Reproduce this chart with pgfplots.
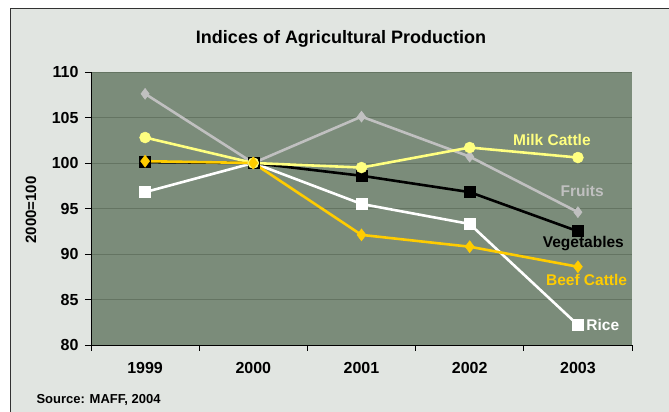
\documentclass[border=0pt]{standalone}
\usepackage{pgfplots}
\pgfplotsset{compat=1.18}
\usepackage{fontspec}
\setmainfont{Liberation Sans}

\definecolor{outerbg}{RGB}{225,229,225}
\definecolor{framec}{RGB}{50,50,50}
\definecolor{plotbg}{RGB}{123,140,122}
\definecolor{gridc}{RGB}{100,116,98}
\definecolor{fruitc}{RGB}{192,192,192}
\definecolor{milkc}{RGB}{255,255,128}
\definecolor{beefc}{RGB}{255,204,0}

\begin{document}
\begin{tikzpicture}[x=1pt,y=1pt]
\useasboundingbox (0,0) rectangle (669,412);
\fill[white] (0,0) rectangle (669,412);
\begin{scope}
  \clip (0,0) rectangle (669,412);
  \filldraw[fill=outerbg, draw=framec, line width=1.5pt] (10.5,-10) rectangle (690,403.5);
\end{scope}

\node[font=\bfseries\fontsize{18}{21}\selectfont] at (341,373) {Indices of Agricultural Production};
\node[font=\bfseries\fontsize{15}{17}\selectfont, rotate=90] at (31,202) {2000=100};
\node[font=\bfseries\fontsize{13}{15}\selectfont, anchor=west] at (33,12) {Source: MAFF, 2004};

\begin{axis}[
  at={(91pt,67pt)}, anchor=south west,
  scale only axis, width=541pt, height=273pt,
  xmin=-0.5, xmax=4.5, ymin=80, ymax=110,
  axis background/.style={fill=plotbg},
  axis x line*=bottom, axis y line*=left,
  axis line style={black, line width=0.8pt, -},
  xtick={0,1,2,3,4},
  xticklabels={1999,2000,2001,2002,2003},
  minor xtick={-0.5,0.5,1.5,2.5,3.5,4.5},
  ytick={80,85,...,110},
  tick align=outside,
  major tick length=6pt, minor tick length=6pt,
  x tick style={draw=none},
  minor x tick style={draw=black, line width=0.8pt},
  y tick style={black, line width=0.8pt},
  ymajorgrids, major grid style={gridc, line width=0.8pt},
  /pgf/number format/assume math mode=true,
  ticklabel style={font=\bfseries\fontsize{16}{18}\selectfont},
  xticklabel style={yshift=-8pt},
  yticklabel style={xshift=-3pt},
  clip=false,
  every axis plot/.append style={line width=2.6pt},
]
% Fruits
\addplot[color=fruitc, mark=diamond*, mark size=5.5pt, mark options={fill=fruitc, line width=0.5pt}]
  coordinates {(0,107.6) (1,100) (2,105.1) (3,100.7) (4,94.6)};
% Rice
\addplot[color=white, mark=square*, mark size=5.5pt, mark options={fill=white, line width=0.5pt}]
  coordinates {(0,96.8) (1,100) (2,95.5) (3,93.3) (4,82.2)};
% Vegetables
\addplot[color=black, mark=square*, mark size=5.5pt, mark options={fill=black, line width=0.5pt}]
  coordinates {(0,100.1) (1,100) (2,98.6) (3,96.8) (4,92.5)};
% Milk Cattle
\addplot[color=milkc, mark=*, mark size=5.5pt, mark options={fill=milkc, line width=0.5pt}]
  coordinates {(0,102.8) (1,100) (2,99.5) (3,101.7) (4,100.6)};
% Beef Cattle
\addplot[color=beefc, mark=diamond*, mark size=6pt, mark options={fill=beefc, line width=0.5pt}]
  coordinates {(0,100.2) (1,100) (2,92.1) (3,90.8) (4,88.6)};

\begin{scope}[font=\bfseries\fontsize{15.5}{17}\selectfont]
\node[text=milkc] at (axis cs:3.76,102.5) {Milk Cattle};
\node[text=fruitc] at (axis cs:4.04,96.9) {Fruits};
\node[text=black] at (axis cs:4.05,91.2) {Vegetables};
\node[text=beefc] at (axis cs:4.08,87.1) {Beef Cattle};
\node[text=white] at (axis cs:4.23,82.2) {Rice};
\end{scope}
\end{axis}
\end{tikzpicture}
\end{document}
